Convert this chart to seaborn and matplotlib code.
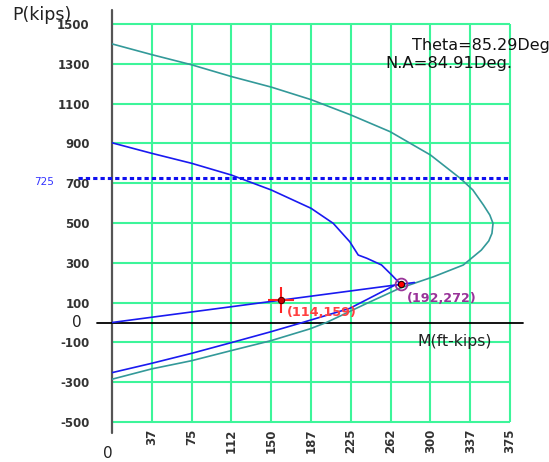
import numpy as np
import pandas as pd
import matplotlib
matplotlib.use("Agg")
import matplotlib.pyplot as plt
import seaborn as sns

# Interaction diagram data: moment M (ft-kips) vs axial load P (kips)
outer_m = [0, 37.5, 75, 112.5, 150, 187.5, 225, 262, 300, 328, 340, 350, 356, 359,
           358, 355, 348, 331, 303, 271, 240, 202, 186.5, 150, 112.5, 75, 37.5, 0]
outer_p = [1400, 1346, 1295, 1236, 1183, 1120, 1043, 959, 842, 725, 666, 590, 540, 498,
           448, 410, 364, 289, 230, 172, 96, 0, -32, -91, -141, -192, -233, -285]

inner_m = [0, 37.5, 75, 112.5, 150, 187.5, 208.5, 224, 232, 240, 254, 263.5, 272]
inner_p = [903, 850, 800, 741, 666, 574, 498, 406, 339, 323, 289, 239, 192]

lower_m = [0, 37.5, 75, 112.5, 150, 177, 224, 266.6, 272]
lower_p = [-252, -205, -155, -101, -46, -4, 71, 188, 192]

load_m = [0, 285]
load_p = [0, 201]

capacity_pt = (272, 192)   # (M, P)
applied_pt = (159, 114)    # (M, P)
p_limit = 725

x_ticks = [0, 37.5, 75, 112.5, 150, 187.5, 225, 262.5, 300, 337.5, 375]
x_labels = ["", "37", "75", "112", "150", "187", "225", "262", "300", "337", "375"]
y_ticks = [1500, 1300, 1100, 900, 700, 500, 300, 100, -100, -300, -500]
y_labels = [str(v) for v in y_ticks]

sns.set_style("white")
plt.rcParams["font.family"] = ["DejaVu Sans"]

W, H = 549, 462
fig = plt.figure(figsize=(W / 100, H / 100), dpi=100)
ax = fig.add_axes([112 / W, 40 / H, 398 / W, 398 / H])
ax.set_xlim(0, 375)
ax.set_ylim(-500, 1500)
for s in ax.spines.values():
    s.set_visible(False)

grid_c = "#3DF59A"
ax.hlines(y_ticks, 0, 375, colors=grid_c, lw=1.5, clip_on=False, zorder=1)
ax.vlines(x_ticks[1:], -500, 1500, colors=grid_c, lw=1.5, clip_on=False, zorder=1)

ax.set_xticks(x_ticks)
ax.set_xticklabels(x_labels, rotation=90, fontsize=8.5, fontweight="bold", color="#333333")
ax.set_yticks(y_ticks)
ax.set_yticklabels(y_labels, fontsize=8.5, fontweight="bold", color="#333333")
ax.tick_params(axis="both", length=0)
ax.tick_params(axis="y", pad=16)
ax.tick_params(axis="x", pad=5)

# axes lines
ax.plot([0, 0], [1570, -557], color="#555555", lw=1.6, clip_on=False, zorder=3)
ax.plot([-14, 387], [0, 0], color="black", lw=1.3, clip_on=False, zorder=3)

# capacity curves
teal = "#339999"
blue = "#1A1AF0"
sns.lineplot(x=outer_m, y=outer_p, sort=False, estimator=None, color=teal, lw=1.2, ax=ax, zorder=4)
sns.lineplot(x=inner_m, y=inner_p, sort=False, estimator=None, color=blue, lw=1.2, ax=ax, zorder=4)
sns.lineplot(x=lower_m, y=lower_p, sort=False, estimator=None, color=blue, lw=1.2, ax=ax, zorder=4)
sns.lineplot(x=load_m, y=load_p, sort=False, estimator=None, color=blue, lw=1.2, ax=ax, zorder=4)

# axial load limit
ax.plot([-32, 375], [p_limit, p_limit], color="#1010F0", lw=2.2,
        linestyle=(0, (1.4, 1.0)), clip_on=False, zorder=5)
ax.text(-55, 706, str(p_limit), color="#3333FF", fontsize=7.5, ha="right", va="center")

# applied load point
ax.plot(*applied_pt, marker="+", ms=19, mew=1.5, color="#FF2020", zorder=6, clip_on=False)
ax.plot(*applied_pt, marker="o", ms=4.5, mfc="#CC0000", mec="#550000", mew=0.8, zorder=7)
ax.text(164.6, 48, f"({applied_pt[1]},{applied_pt[0]})", color="#FF4040",
        fontsize=9.2, fontweight="bold", ha="left", va="center", zorder=8)

# capacity point
ax.plot(*capacity_pt, marker="o", ms=8.5, mfc="none", mec="#993399", mew=1.3, zorder=6)
ax.plot(*capacity_pt, marker="o", ms=4.5, mfc="#FF0000", mec="#220000", mew=0.8, zorder=7)
ax.text(277.7, 123, f"({capacity_pt[1]},{capacity_pt[0]})", color="#993399",
        fontsize=9.2, fontweight="bold", ha="left", va="center", zorder=8)

# labels
ax.text(-94, 1545, "P(kips)", fontsize=12.5, ha="left", va="center", color="#222222", clip_on=False)
ax.text(288.3, -93, "M(ft-kips)", fontsize=11.3, ha="left", va="center", color="#222222")
ax.text(282.3, 1394, "Theta=85.29Deg", fontsize=11.5, ha="left", va="center", color="#111111", clip_on=False)
ax.text(257.2, 1304, "N.A=84.91Deg.", fontsize=11.8, ha="left", va="center", color="#111111")
ax.text(-28.3, 0, "0", fontsize=11, ha="right", va="center", color="#222222")
ax.text(-3.8, -656, "0", fontsize=11, ha="center", va="center", color="#222222", clip_on=False)

fig.savefig("out.png", dpi=100, facecolor="white")
